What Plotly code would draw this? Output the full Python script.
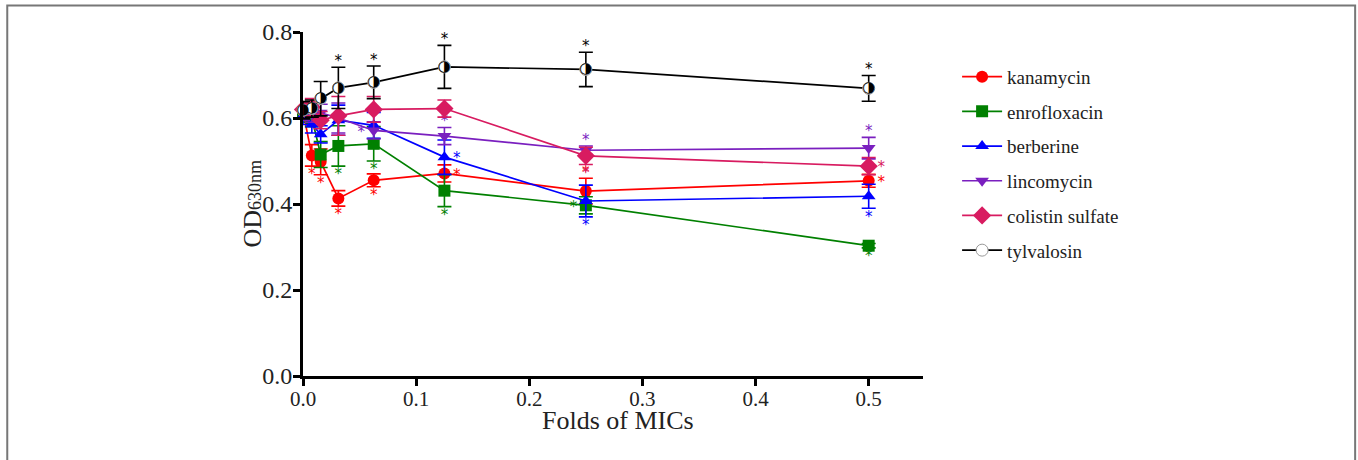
import plotly.graph_objects as go

x_folds = [0, 1/128, 1/64, 1/32, 1/16, 1/8, 1/4, 1/2]

names = ["kanamycin", "enrofloxacin", "berberine", "lincomycin", "colistin sulfate", "tylvalosin"]

kanamycin = [0.615, 0.513, 0.498, 0.413, 0.455, 0.471, 0.430, 0.454]
kanamycin_err = [0.02, 0.025, 0.03, 0.018, 0.015, 0.02, 0.03, 0.015]
enrofloxacin = [0.610, 0.600, 0.515, 0.535, 0.540, 0.431, 0.397, 0.303]
enrofloxacin_err = [0.02, 0.02, 0.03, 0.047, 0.04, 0.037, 0.02, 0.005]
berberine = [0.605, 0.585, 0.562, 0.595, 0.583, 0.509, 0.407, 0.418]
berberine_err = [0.02, 0.02, 0.02, 0.035, 0.03, 0.04, 0.037, 0.028]
lincomycin = [0.615, 0.610, 0.612, 0.600, 0.571, 0.558, 0.525, 0.530]
lincomycin_err = [0.02, 0.02, 0.02, 0.035, 0.02, 0.02, 0.01, 0.025]
colistin = [0.620, 0.625, 0.595, 0.605, 0.620, 0.622, 0.512, 0.488]
colistin_err = [0.015, 0.02, 0.02, 0.045, 0.03, 0.02, 0.02, 0.02]
tylvalosin = [0.618, 0.622, 0.645, 0.670, 0.683, 0.719, 0.713, 0.669]
tylvalosin_err = [0.02, 0.02, 0.04, 0.048, 0.038, 0.05, 0.04, 0.03]

x_ticks = [0, 0.1, 0.2, 0.3, 0.4, 0.5]
x_ticktext = ["0.0", "0.1", "0.2", "0.3", "0.4", "0.5"]
y_ticks = [0, 0.2, 0.4, 0.6, 0.8]
y_ticktext = ["0.0", "0.2", "0.4", "0.6", "0.8"]

# significance star placement: (point index, side)
kanamycin_sig = [(1, "below"), (2, "below"), (3, "below"), (4, "below"), (5, "right"), (6, "above"), (7, "right")]
enrofloxacin_sig = [(3, "below"), (4, "below"), (5, "below"), (6, "left"), (7, "below")]
berberine_sig = [(5, "right"), (6, "below"), (7, "below")]
lincomycin_sig = [(4, "left"), (5, "above"), (6, "above"), (7, "above")]
colistin_sig = [(6, "below"), (7, "right")]
tylvalosin_sig = [(3, "above"), (4, "above"), (5, "above"), (6, "above"), (7, "above")]

values = [kanamycin, enrofloxacin, berberine, lincomycin, colistin, tylvalosin]
errors = [kanamycin_err, enrofloxacin_err, berberine_err, lincomycin_err, colistin_err, tylvalosin_err]
sigs = [kanamycin_sig, enrofloxacin_sig, berberine_sig, lincomycin_sig, colistin_sig, tylvalosin_sig]
colors = ["#ff0000", "#008000", "#0000ff", "#7a1fbf", "#d81b60", "#000000"]
symbols = ["circle", "square", "triangle-up", "triangle-down", "diamond", "circle"]

fig = go.Figure()
serif = "Liberation Serif, Times New Roman, serif"

for i, (nm, v, e, c, s) in enumerate(zip(names, values, errors, colors, symbols)):
    if nm == "tylvalosin":
        mk = dict(symbol="circle", size=12, color="white", line=dict(color="#999999", width=1))
    else:
        mk = dict(symbol=s, size=12 if s != "diamond" else 14, color=c, line=dict(width=0))
    fig.add_trace(go.Scatter(
        x=x_folds, y=v, name=nm, mode="lines+markers",
        line=dict(color=c, width=1.7),
        marker=mk,
        error_y=dict(type="data", array=e, visible=True, color=c, thickness=1.6, width=7),
        legendgroup=nm, cliponaxis=False,
    ))
    if nm == "tylvalosin":
        # half-filled circle symbol (right half black)
        fig.add_trace(go.Scatter(
            x=x_folds, y=v, mode="text", text=["\u25D1"] * len(x_folds),
            textposition="middle center", showlegend=False, legendgroup=nm,
            textfont=dict(size=15, color="black", family="DejaVu Sans"),
            cliponaxis=False, hoverinfo="skip",
        ))
    # significance stars
    sx, sy = [], []
    for idx, side in sigs[i]:
        xv, yv, ev = x_folds[idx], v[idx], e[idx]
        if side == "above":
            sx.append(xv); sy.append(yv + ev + 0.012)
        elif side == "below":
            sx.append(xv); sy.append(yv - ev - 0.022)
        elif side == "right":
            sx.append(xv + 0.011); sy.append(yv - 0.006)
        else:
            sx.append(xv - 0.011); sy.append(yv - 0.006)
    fig.add_trace(go.Scatter(
        x=sx, y=sy, mode="text", text=["*"] * len(sx), showlegend=False,
        textfont=dict(color=c, size=15, family="DejaVu Sans"), cliponaxis=False,
        hoverinfo="skip",
    ))

fig.update_layout(
    width=1358, height=460,
    margin=dict(l=303, r=435, t=32, b=84),
    plot_bgcolor="white", paper_bgcolor="white",
    font=dict(family=serif, color="#222222"),
    showlegend=True,
    legend=dict(
        x=1.055, y=0.925, xanchor="left", yanchor="top",
        font=dict(size=19, family=serif, color="#222222"),
        traceorder="grouped", tracegroupgap=7,
        bgcolor="rgba(0,0,0,0)", itemwidth=40,
    ),
    xaxis=dict(
        range=[0, 0.548], tickvals=x_ticks, ticktext=x_ticktext,
        showgrid=False, zeroline=False, showline=True, linecolor="black", linewidth=3,
        ticks="outside", ticklen=7, tickwidth=2.5, tickcolor="black",
        tickfont=dict(size=21, family=serif, color="#222222"),
        ticklabelstandoff=-5,
    ),
    yaxis=dict(
        range=[0, 0.8], tickvals=y_ticks, ticktext=y_ticktext,
        showgrid=False, zeroline=False, showline=True, linecolor="black", linewidth=3,
        ticks="outside", ticklen=7, tickwidth=2.5, tickcolor="black",
        tickfont=dict(size=24, family=serif, color="#222222"),
        ticklabelstandoff=-4,
    ),
    annotations=[
        dict(text="Folds of MICs", xref="paper", yref="paper", x=0.508, y=-0.13,
             xanchor="center", yanchor="middle", showarrow=False,
             font=dict(size=26, family=serif, color="#222222")),
        dict(text="OD<span style='font-size:18px'>630nm</span>", xref="paper", yref="paper",
             x=-0.083, y=0.5, xanchor="center", yanchor="middle", showarrow=False, textangle=-90,
             font=dict(size=26, family=serif, color="#222222")),
    ],
    shapes=[dict(type="rect", xref="paper", yref="paper",
                 x0=-0.477, x1=1.697, y0=-0.4, y1=1.077,
                 line=dict(color="#777777", width=2), fillcolor="rgba(0,0,0,0)", layer="below")],
)

fig.write_html("out.html", config={"displayModeBar": False},
               post_script="document.body.style.margin='0';document.body.style.overflow='hidden';")
